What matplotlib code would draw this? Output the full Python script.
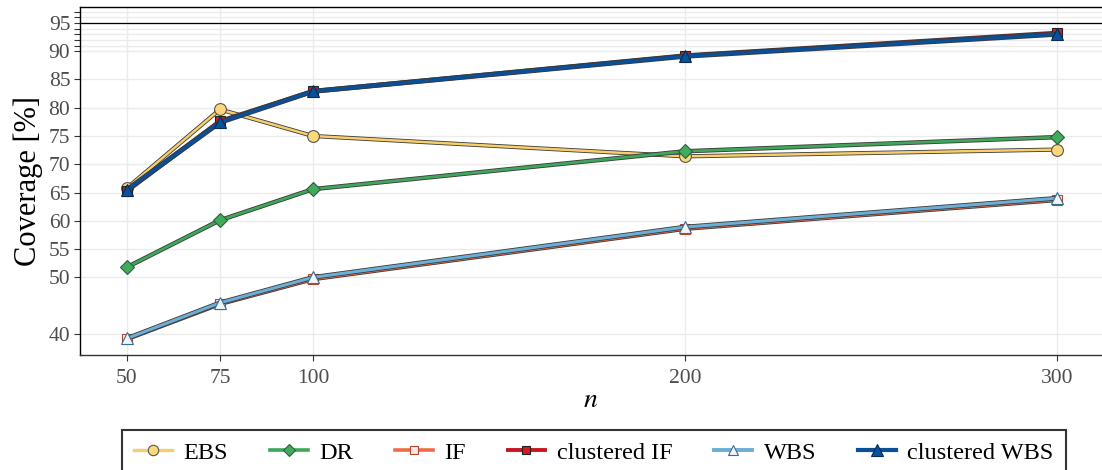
import numpy as np
import matplotlib
matplotlib.use("Agg")
import matplotlib.pyplot as plt
from matplotlib.lines import Line2D

plt.rcParams['font.family'] = ['Liberation Serif', 'DejaVu Serif']
plt.rcParams['mathtext.fontset'] = 'stix'

n = [50, 75, 100, 200, 300]
methods = ['EBS', 'DR', 'IF', 'clustered IF', 'WBS', 'clustered WBS']
ebs = [65.8, 79.7, 75.0, 71.4, 72.6]
dr = [51.8, 60.1, 65.6, 72.3, 74.8]
inf = [39.1, 45.3, 49.7, 58.6, 63.7]
cl_inf = [65.3, 77.6, 82.9, 89.2, 93.2]
wbs = [39.2, 45.5, 50.0, 58.9, 64.0]
cl_wbs = [65.5, 77.4, 82.9, 89.1, 93.0]
yticks = [40, 50, 55, 60, 65, 70, 75, 80, 85, 90, 95]
yminor = [91, 92, 93, 94, 96, 97]

series = [ebs, dr, inf, cl_inf, wbs, cl_wbs]
# line colour, marker, marker size, face, edge, line width
styles = [
    ('#f7ce6b', 'o', 8.5, '#fdd878', '#555555', 1.8),
    ('#3fa65a', 'D', 7.5, '#41ab5d', '#2f5f3a', 2.0),
    ('#ee6a48', 's', 6.5, '#fde8e2', '#b2452c', 2.0),
    ('#c8161e', 's', 7.0, '#d7191c', '#222222', 2.2),
    ('#6baed6', '^', 8.5, '#eef5fb', '#3b6d8e', 2.2),
    ('#0b4f98', '^', 9.0, '#08519c', '#0a2a55', 2.4),
]

fig = plt.figure(figsize=(11.02, 4.70), dpi=100)
ax = fig.add_axes([0.0726, 0.245, 0.9274, 0.74])

handles = []
for k, (name, vals, st) in enumerate(zip(methods, series, styles)):
    col, mk, ms, fc, ec, lw = st
    z = 3 + k
    # dark casing under each line
    ax.plot(n, vals, color='#3a3a3a', linewidth=lw + 1.2, zorder=z, solid_capstyle='round')
    ax.plot(n, vals, color=col, linewidth=lw, zorder=z, solid_capstyle='round')
    ax.plot(n, vals, linestyle='none', marker=mk, ms=ms, mfc=fc, mec=ec,
            markeredgewidth=0.8, zorder=z)
    handles.append(Line2D([], [], color=col, linewidth=lw + 0.6, marker=mk, ms=ms - 1,
                          mfc=fc, mec=ec, markeredgewidth=0.8, label=name))

ax.axhline(95, color='black', linewidth=0.9, zorder=2)

ax.set_xlim(37.4, 312)
ax.set_ylim(36.3, 97.8)
ax.set_xticks(n)
ax.set_yticks(yticks)
ax.set_yticks(yminor, minor=True)
ax.grid(True, which='both', color='#ebebeb', linewidth=1.0, zorder=0)
ax.tick_params(axis='both', which='both', labelsize=15.5, labelcolor='#4d4d4d',
               color='#333333', length=4, width=0.8)
ax.tick_params(axis='x', pad=6)
ax.tick_params(axis='y', pad=3)

ax.spines['right'].set_visible(False)
ax.spines['left'].set_color('black')
ax.spines['top'].set_color('black')
ax.spines['bottom'].set_color('#333333')
for s in ax.spines.values():
    s.set_linewidth(1.0)

ax.set_ylabel('Coverage [%]', fontsize=22, labelpad=4)
ax.set_xlabel('$n$', fontsize=20, labelpad=0)

leg = fig.legend(handles=handles, loc='upper center', bbox_to_anchor=(0.539, 0.112),
                 ncol=6, fontsize=17.5, frameon=True, fancybox=False,
                 edgecolor='black', handlelength=1.55, columnspacing=1.72,
                 handletextpad=0.48, borderpad=0.5)
leg.get_frame().set_linewidth(1.5)

fig.savefig('out.png', dpi=100)
